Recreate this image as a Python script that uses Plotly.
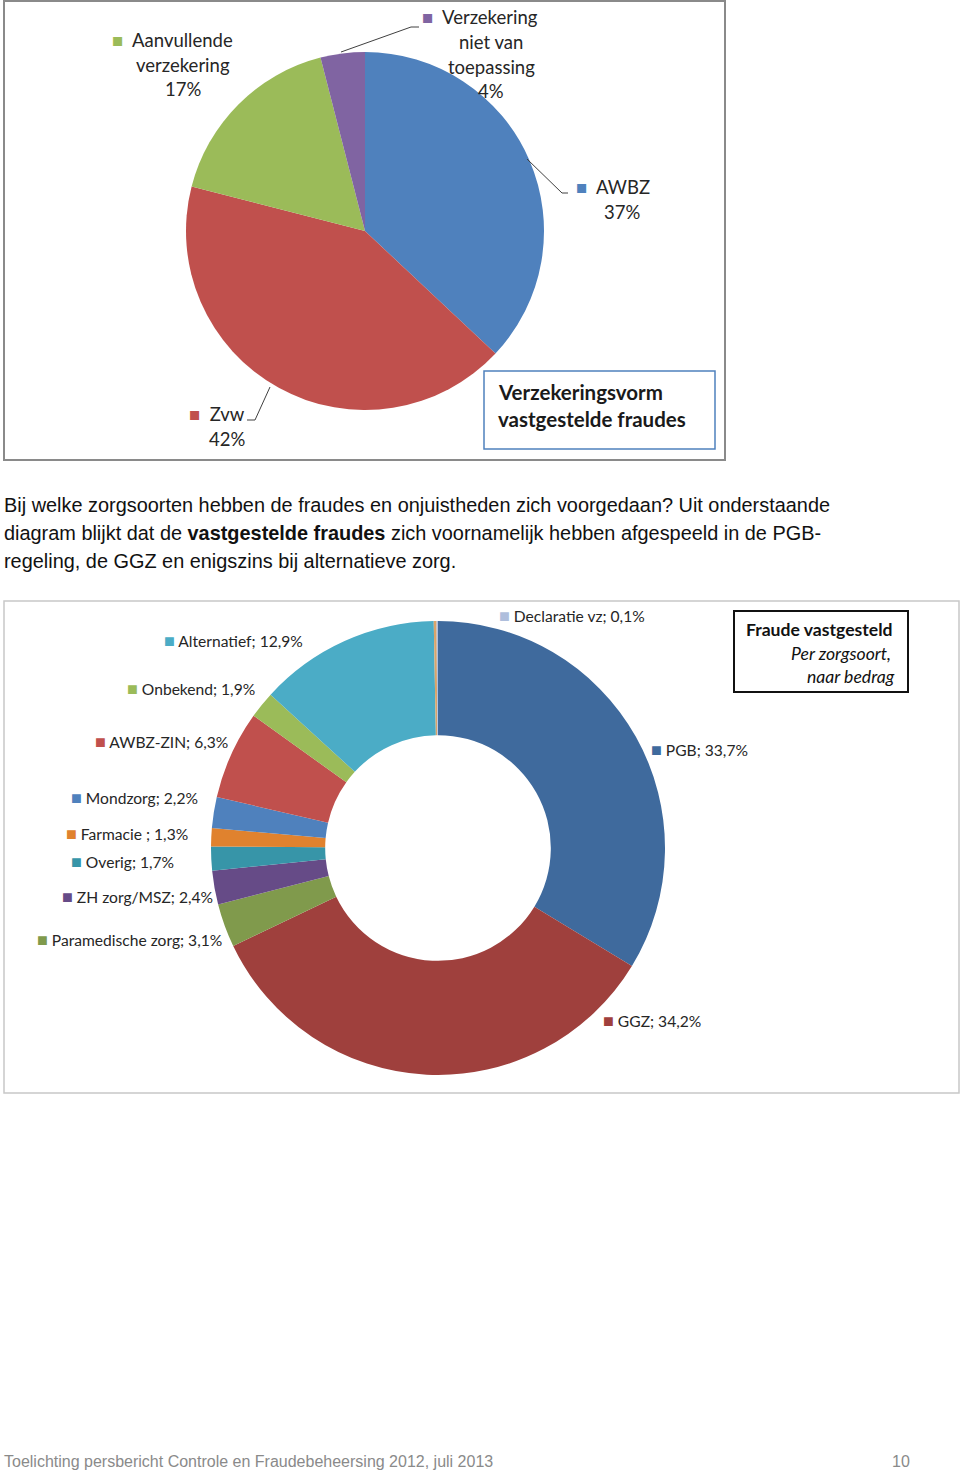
import plotly.graph_objects as go

W, H = 960, 1471

# ---------------- data ----------------
pie1_labels = ["AWBZ", "Zvw", "Aanvullende verzekering", "Verzekering niet van toepassing"]
pie1_values = [37, 42, 17, 4]
pie1_colors = ["#4F81BD", "#C0504D", "#9BBB59", "#8064A2"]

pie2_labels = ["PGB", "GGZ", "Paramedische zorg", "ZH zorg/MSZ", "Overig", "Farmacie ",
               "Mondzorg", "AWBZ-ZIN", "Onbekend", "Alternatief", "Overig klein", "Declaratie vz"]
pie2_values = [33.7, 34.2, 3.1, 2.4, 1.7, 1.3, 2.2, 6.3, 1.9, 12.9, 0.2, 0.1]
pie2_colors = ["#3F6A9D", "#9F403D", "#809A4C", "#664B87", "#3795A8", "#E0822E",
               "#4F81BD", "#C0504D", "#9BBB59", "#4BACC6", "#D9A46A", "#AFBEDC"]

paragraph = [
    "Bij welke zorgsoorten hebben de fraudes en onjuistheden zich voorgedaan? Uit onderstaande",
    "diagram blijkt dat de <b>vastgestelde fraudes</b> zich voornamelijk hebben afgespeeld in de PGB-",
    "regeling, de GGZ en enigszins bij alternatieve zorg.",
]
footer_left = "Toelichting persbericht Controle en Fraudebeheersing 2012, juli 2013"
footer_right = "10"


def px(x):
    return x / W


def py(y):
    return 1 - y / H


LBL_FONT = "Lato, 'Open Sans', sans-serif"
TXT_FONT = "'Liberation Sans', Arial, sans-serif"

fig = go.Figure()

# pie 1
fig.add_trace(go.Pie(
    labels=pie1_labels, values=pie1_values, sort=False, direction="clockwise", rotation=0,
    marker=dict(colors=pie1_colors, line=dict(width=0)), textinfo="none", hoverinfo="skip",
    showlegend=False,
    domain=dict(x=[px(186), px(544)], y=[py(410), py(52)]),
))

# pie 2 (donut)
fig.add_trace(go.Pie(
    labels=pie2_labels, values=pie2_values, sort=False, direction="clockwise", rotation=0,
    hole=0.497,
    marker=dict(colors=pie2_colors, line=dict(width=0)), textinfo="none", hoverinfo="skip",
    showlegend=False,
    domain=dict(x=[px(211), px(665)], y=[py(1075), py(621)]),
))

ann = []
shapes = []


def sq(c, gap="  ", size=None):
    st = f"color:{c}" + (f";font-size:{size}px" if size else "")
    return f"<span style='{st}'>■</span>{gap}"


p1 = {l: v for l, v in zip(pie1_labels, pie1_values)}
c1 = {l: c for l, c in zip(pie1_labels, pie1_colors)}


def add_lines(lines, cx, ys, size=18.5, color="#262626", anchor="center"):
    for t, y in zip(lines, ys):
        ann.append(dict(x=px(cx), y=py(y), xref="paper", yref="paper", text=t, showarrow=False,
                        xanchor=anchor, yanchor="middle",
                        font=dict(family=LBL_FONT, size=size, color=color)))


add_lines([sq(c1["Aanvullende verzekering"]) + "Aanvullende"], 110, [40], anchor="left")
add_lines(["verzekering", f"{p1['Aanvullende verzekering']}%"], 183, [65, 89])
add_lines([sq(c1["Verzekering niet van toepassing"]) + "Verzekering"], 420, [17], anchor="left")
add_lines(["niet van", "toepassing", f"{p1['Verzekering niet van toepassing']}%"], 491, [42, 67, 91])
add_lines([sq(c1["AWBZ"]) + "AWBZ"], 574, [187], anchor="left")
add_lines([f"{p1['AWBZ']}%"], 622, [212])
add_lines([sq(c1["Zvw"]) + "Zvw"], 187, [414], anchor="left")
add_lines([f"{p1['Zvw']}%"], 227, [439])

# leader lines
for pts in [[(341, 52), (411, 27), (419, 27)], [(527, 159), (562, 193), (568, 193)],
            [(270, 387), (255, 420), (247, 420)]]:
    for (x0, y0), (x1, y1) in zip(pts[:-1], pts[1:]):
        shapes.append(dict(type="line", xref="paper", yref="paper", x0=px(x0), y0=py(y0),
                           x1=px(x1), y1=py(y1), line=dict(color="#404040", width=1)))

# title box 1
shapes.append(dict(type="rect", xref="paper", yref="paper", x0=px(484), y0=py(449), x1=px(715),
                   y1=py(371), line=dict(color="#4F81BD", width=1.5), fillcolor="white"))
add_lines(["<b>Verzekeringsvorm</b>", "<b>vastgestelde fraudes</b>"], 496, [392, 419], size=20.5,
          color="#1a1a1a", anchor="left")

# chart 1 border
shapes.append(dict(type="rect", xref="paper", yref="paper", x0=px(4), y0=py(460), x1=px(725),
                   y1=py(1), line=dict(color="#8a8a8a", width=2)))

# ---------- paragraph ----------
for t, y in zip(paragraph, [505, 533, 561]):
    ann.append(dict(x=px(2), y=py(y), xref="paper", yref="paper", text=t, showarrow=False,
                    xanchor="left", yanchor="middle",
                    font=dict(family=TXT_FONT, size=19.9, color="#111111")))

# ---------- pie 2 labels ----------
p2pos = {
    "Declaratie vz": (497, 615),
    "Alternatief": (162, 640),
    "Onbekend": (125, 688),
    "AWBZ-ZIN": (93, 741),
    "Mondzorg": (69, 797),
    "Farmacie ": (64, 833),
    "Overig": (69, 861),
    "ZH zorg/MSZ": (60, 896),
    "Paramedische zorg": (35, 939),
    "PGB": (649, 749),
    "GGZ": (601, 1020),
}
for l, v, c in zip(pie2_labels, pie2_values, pie2_colors):
    if l not in p2pos:
        continue
    x, y = p2pos[l]
    vs = f"{v:.1f}".replace(".", ",")
    ann.append(dict(x=px(x), y=py(y), xref="paper", yref="paper",
                    text=f"{sq(c, ' ', 18)}{l}; {vs}%", showarrow=False, xanchor="left",
                    yanchor="middle",
                    font=dict(family=LBL_FONT, size=15.6, color="#262626")))

# title box 2
shapes.append(dict(type="rect", xref="paper", yref="paper", x0=px(734), y0=py(692), x1=px(908),
                   y1=py(611), line=dict(color="#111111", width=2), fillcolor="white"))
ann.append(dict(x=px(895), y=py(629), xref="paper", yref="paper", text="<b>Fraude vastgesteld</b>",
                showarrow=False, xanchor="right", yanchor="middle",
                font=dict(family=LBL_FONT, size=17.6, color="#111111")))
ann.append(dict(x=px(893), y=py(653), xref="paper", yref="paper", text="<i>Per zorgsoort,</i>",
                showarrow=False, xanchor="right", yanchor="middle",
                font=dict(family=LBL_FONT, size=17.6, color="#111111")))
ann.append(dict(x=px(897), y=py(676), xref="paper", yref="paper", text="<i>naar bedrag</i>",
                showarrow=False, xanchor="right", yanchor="middle",
                font=dict(family=LBL_FONT, size=17.6, color="#111111")))

# chart 2 border
shapes.append(dict(type="rect", xref="paper", yref="paper", x0=px(4), y0=py(1093), x1=px(959),
                   y1=py(601), line=dict(color="#c8c8c8", width=1.5)))

# ---------- footer ----------
ann.append(dict(x=px(2), y=py(1461), xref="paper", yref="paper", text=footer_left, showarrow=False,
                xanchor="left", yanchor="middle", font=dict(family=TXT_FONT, size=16, color="#8a8a8a")))
ann.append(dict(x=px(912), y=py(1461), xref="paper", yref="paper", text=footer_right, showarrow=False,
                xanchor="right", yanchor="middle", font=dict(family=TXT_FONT, size=16, color="#8a8a8a")))

fig.update_layout(width=W, height=H, margin=dict(l=0, r=0, t=0, b=0), paper_bgcolor="white",
                  plot_bgcolor="white", annotations=ann, shapes=shapes, showlegend=False)

fig.write_html("out.html", config={"displayModeBar": False})
